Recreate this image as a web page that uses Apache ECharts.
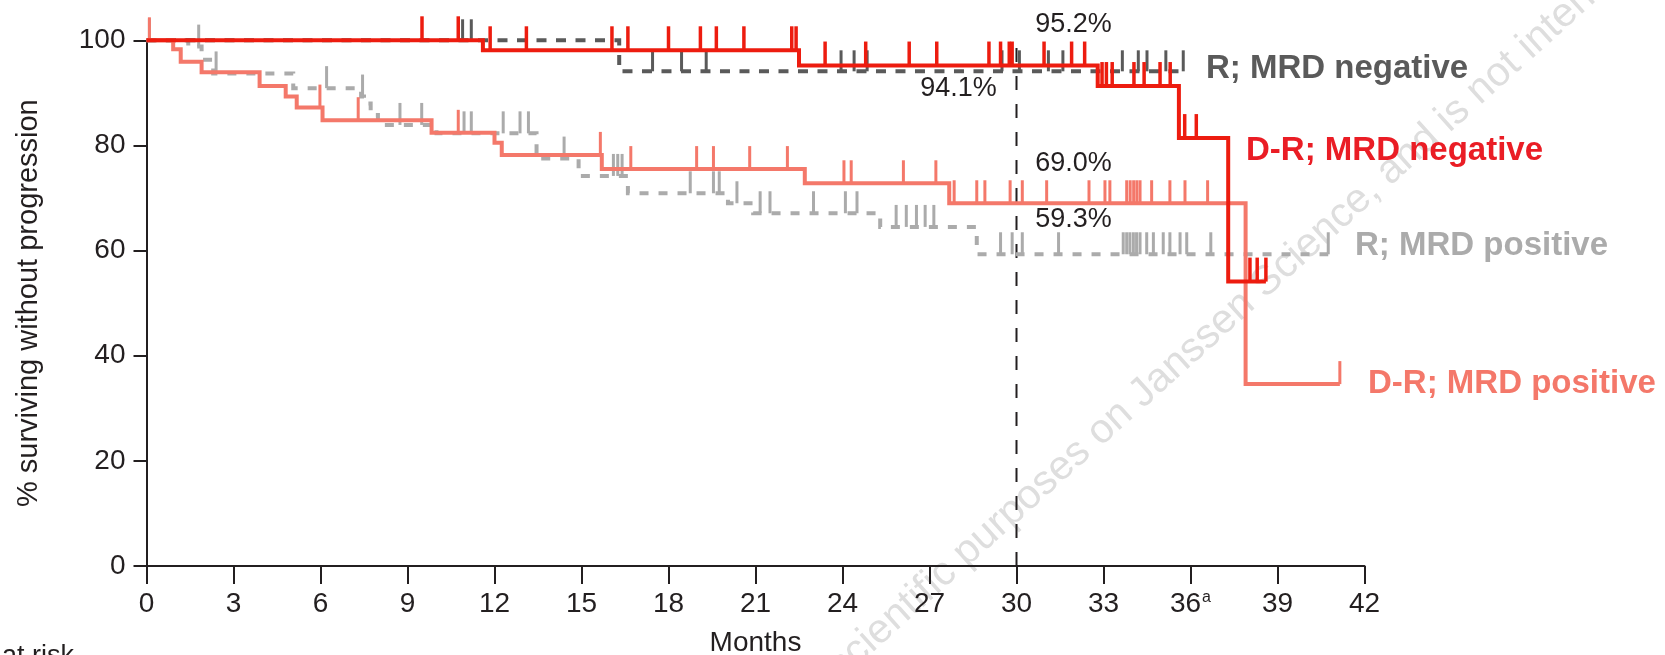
<!DOCTYPE html>
<html lang="en">
<head>
<meta charset="UTF-8">
<title>PFS by MRD status</title>
<style>
  html, body { margin: 0; padding: 0; background: #fff; }
  #chart { width: 1665px; height: 655px; }
</style>
</head>
<body>
<div id="chart"></div>
<script src="https://cdn.jsdelivr.net/npm/echarts@6/dist/echarts.min.js"></script>
<script>
// axis ticks
var xTicks = ['0', '3', '6', '9', '12', '15', '18', '21', '24', '27', '30', '33', '36', '39', '42'];
var xTickNote = { '36': 'a' };
var yTicks = ['0', '20', '40', '60', '80', '100'];

// Kaplan-Meier steps: [month, % surviving without progression]
// D-R; MRD negative
var drNegSteps = [[0, 100], [11.6, 98.1], [22.5, 95.2], [32.8, 91.3], [35.6, 81.4], [37.3, 54.1], [38.6, 54.1]];
var drNegCensor = [9.5, 10.75, 11.85, 13.1, 16.05, 16.6, 18.0, 19.1, 19.65, 20.6, 22.25, 22.4,
    23.4, 24.8, 26.3, 27.25, 29.05, 29.45, 29.75, 29.85, 30.95, 31.9, 32.35,
    32.95, 33.1, 33.3, 34.05, 34.4, 34.95, 35.3, 35.8, 36.2, 38.05, 38.3, 38.6];

// R; MRD negative
var rNegSteps = [[0, 100], [16.3, 94.1], [35.75, 94.1]];
var rNegCensor = [10.9, 11.2, 17.45, 18.45, 19.3, 23.95, 24.4, 24.85,
    29.5, 30.1, 31.1, 31.6, 33.65, 34.2, 34.5, 35.15, 35.75];

// D-R; MRD positive
var drPosSteps = [[0, 100], [0.92, 98.3], [1.18, 95.9], [1.9, 93.9], [3.9, 91.3], [4.8, 89.3], [5.18, 87.2],
    [6.07, 84.8], [9.83, 82.4], [12.0, 80.5], [12.25, 78.2], [15.7, 75.5], [22.7, 72.8],
    [27.68, 69.0], [37.9, 34.6], [41.15, 34.6]];
var drPosCensor = [0.1, 5.98, 7.3, 10.75, 15.65, 16.7, 18.97, 19.55, 20.8, 22.1, 24.05, 24.3, 26.1, 27.22,
    27.85, 28.63, 28.91, 29.78, 30.2, 31.04, 32.5, 33.05, 33.22, 33.8, 33.92, 34.04, 34.15, 34.26,
    34.66, 35.29, 35.81, 36.59, 41.15];

// R; MRD positive
var rPosSteps = [[0, 100], [1.44, 98.8], [1.9, 96.3], [2.3, 93.7], [5.06, 90.9], [7.4, 89.3], [7.5, 88.0],
    [7.73, 85.8], [7.98, 83.9], [10.0, 82.3], [13.45, 77.5], [14.9, 74.2], [16.6, 70.9], [20.05, 69.0],
    [20.92, 67.1], [25.3, 64.5], [28.63, 59.3], [40.75, 59.3]];
var rPosCensor = [0.1, 1.8, 2.4, 6.21, 7.45, 8.74, 9.49, 10.95, 11.2, 12.3, 12.88, 13.17, 14.4, 16.1, 16.25, 16.4,
    18.75, 19.55, 19.75, 20.36, 21.16, 21.5, 23.0, 24.1, 24.5, 25.85, 26.2, 26.55, 26.85, 27.15,
    29.45, 29.85, 30.2, 31.45, 33.68, 33.8, 33.91, 34.03, 34.14, 34.26, 34.49, 34.72, 35.06, 35.29,
    35.64, 35.87, 36.7, 40.75];

// 30-month landmark
var landmarkMonth = 30;
var landmarkPct = [95.2, 94.1, 69.0, 59.3];

var RED = '#ED1C0F', SALMON = '#F4786A', DARK = '#5A5A5A', LIGHT = '#ABABAB', INK = '#231F20';
var FONT = '"Liberation Sans", Arial, sans-serif';

function levelAt(steps, t) {
    var y = steps[0][1];
    for (var i = 0; i < steps.length; i++) {
        if (steps[i][0] <= t) y = steps[i][1];
    }
    return y;
}

function kmLine(name, steps, color, dash, z) {
    return {
        name: name, type: 'line', step: 'end', data: steps, symbol: 'none', clip: false,
        lineStyle: { color: color, width: 4, type: dash, join: 'miter', cap: 'butt' },
        z: z, silent: true
    };
}

function censorMarks(steps, times, color, size, z) {
    return {
        type: 'scatter', symbol: 'rect', symbolSize: size, symbolOffset: [0, '-50%'], clip: false,
        data: times.map(function (t) { return [t, levelAt(steps, t)]; }),
        itemStyle: { color: color, opacity: 1 }, z: z, silent: true
    };
}

// label offsets for the landmark percentages (px)
var landmarkOffsets = [[57, -41], [-58, 17], [57, -40], [57, -35]];

var chart = echarts.init(document.getElementById('chart'));
chart.setOption({
    animation: false,
    backgroundColor: '#fff',
    grid: { left: 146.5, right: 300.5, top: 40.3, bottom: 89, outerBoundsMode: 'none', containLabel: false },
    xAxis: {
        type: 'value', min: 0, max: 42, interval: 3,
        name: 'Months', nameLocation: 'middle', nameGap: 63,
        nameTextStyle: { fontFamily: FONT, fontSize: 28, color: INK },
        axisLine: { lineStyle: { color: INK, width: 2 } },
        axisTick: { length: 18, lineStyle: { color: INK, width: 2 } },
        splitLine: { show: false },
        axisLabel: {
            margin: 24, fontFamily: FONT, fontSize: 28, color: INK,
            formatter: function (v) {
                var s = xTicks[Math.round(v / 3)];
                return xTickNote[s] ? '{n|' + s + '}{sup|' + xTickNote[s] + '}' : s;
            },
            rich: {
                n: { fontFamily: FONT, fontSize: 28, color: INK },
                sup: { fontFamily: FONT, fontSize: 16, color: INK, verticalAlign: 'top', padding: [0, 0, 10, 1] }
            }
        }
    },
    yAxis: {
        type: 'value', min: 0, max: 100, interval: 20,
        name: '% surviving without progression', nameLocation: 'middle', nameGap: 103,
        nameTextStyle: { fontFamily: FONT, fontSize: 29, color: INK },
        axisLine: { show: true, lineStyle: { color: INK, width: 2 } },
        axisTick: { show: true, length: 13, lineStyle: { color: INK, width: 2 } },
        splitLine: { show: false },
        axisLabel: {
            margin: 21, fontFamily: FONT, fontSize: 28, color: INK,
            formatter: function (v) { return yTicks[Math.round(v / 20)]; }
        }
    },
    graphic: [
        {
            type: 'text', x: 834, y: 672, rotation: 42 * Math.PI / 180, z: -10, silent: true,
            style: {
                text: 'scientific purposes on Janssen Science, and is not intended',
                fill: '#DEDEDE', font: '41px ' + FONT, align: 'left', verticalAlign: 'middle'
            }
        },
        { type: 'text', x: 1206, y: 69, style: { text: 'R; MRD negative', fill: DARK, font: 'bold 33px ' + FONT, verticalAlign: 'middle' } },
        { type: 'text', x: 1246, y: 151, style: { text: 'D-R; MRD negative', fill: '#EA1D25', font: 'bold 33px ' + FONT, verticalAlign: 'middle' } },
        { type: 'text', x: 1355, y: 246, style: { text: 'R; MRD positive', fill: LIGHT, font: 'bold 33px ' + FONT, verticalAlign: 'middle' } },
        { type: 'text', x: 1368, y: 384, style: { text: 'D-R; MRD positive', fill: SALMON, font: 'bold 33px ' + FONT, verticalAlign: 'middle' } },
        { type: 'text', x: 2, y: 657, style: { text: 'at risk', fill: INK, font: '27px ' + FONT, verticalAlign: 'middle' } }
    ],
    series: [
        {
            type: 'line', data: [[landmarkMonth, 0], [landmarkMonth, 100]], symbol: 'none', silent: true,
            lineStyle: { color: INK, width: 2, type: [14, 14] }, z: 1
        },
        kmLine('R; MRD positive', rPosSteps, LIGHT, [9, 10], 2),
        censorMarks(rPosSteps, rPosCensor, LIGHT, [3, 22], 2),
        kmLine('R; MRD negative', rNegSteps, DARK, [10, 9.5], 3),
        censorMarks(rNegSteps, rNegCensor, DARK, [3, 21], 3),
        kmLine('D-R; MRD positive', drPosSteps, SALMON, 'solid', 4),
        censorMarks(drPosSteps, drPosCensor, SALMON, [3, 23], 4),
        kmLine('D-R; MRD negative', drNegSteps, RED, 'solid', 5),
        censorMarks(drNegSteps, drNegCensor, RED, [3.5, 24], 5),
        {
            type: 'scatter', symbolSize: 0, silent: true, z: 6,
            itemStyle: { opacity: 1 },
            data: landmarkPct.map(function (p, i) {
                return {
                    value: [landmarkMonth, p],
                    label: { offset: landmarkOffsets[i] }
                };
            }),
            label: {
                show: true, position: 'inside', fontFamily: FONT, fontSize: 27, color: INK,
                opacity: 1, textBorderWidth: 0, textBorderColor: 'transparent',
                formatter: function (p) { return p.value[1].toFixed(1) + '%'; }
            }
        }
    ]
});
</script>
</body>
</html>
